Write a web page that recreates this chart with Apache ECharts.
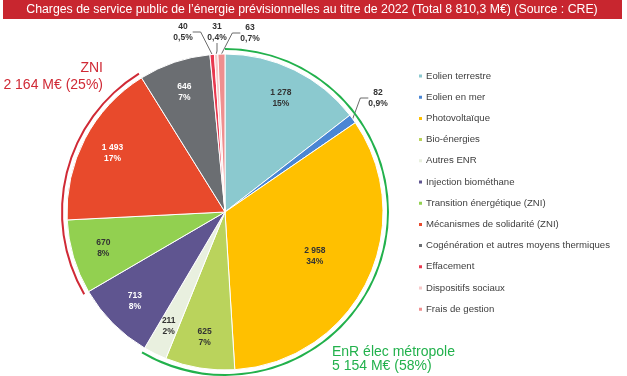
<!DOCTYPE html>
<html>
<head>
<meta charset="utf-8">
<script src="https://cdn.jsdelivr.net/npm/echarts@6/dist/echarts.min.js"></script>
<style>
html,body{margin:0;padding:0;background:#fff;}
#chart{width:627px;height:376px;}
</style>
</head>
<body>
<div id="chart"></div>
<script>
// ---- data ----
const categories = ['Eolien terrestre','Eolien en mer','Photovoltaïque','Bio-énergies','Autres ENR','Injection biométhane','Transition énergétique (ZNI)','Mécanismes de solidarité (ZNI)','Cogénération et autres moyens thermiques','Effacement','Dispositifs sociaux','Frais de gestion'];
const values = [1278, 82, 2958, 625, 211, 713, 670, 1493, 646, 40, 31, 63];
const groupOf = ['EnR','EnR','EnR','EnR','EnR','Bio','ZNI','ZNI','Autres','Autres','Autres','Autres'];
const groupOrder = ['EnR','Bio','ZNI','Autres'];
const titleText = "Charges de service public de l\u2019énergie prévisionnelles au titre de 2022 (Total 8 810,3 M\u20ac) (Source : CRE)";
const enrText = ['EnR élec métropole', '5 154 M\u20ac (58%)'];
const zniText = ['ZNI', '2 164 M\u20ac (25%)'];

// ---- styles ----
const colors = ['#8bc9cf','#4a86d4','#ffc000','#bad35c','#e9f0df','#5f5590','#92d050','#e84a2c','#6b6e72','#e8394f','#f7c9c9','#ef8f8f'];
const labelColors = ['#333','#333','#333','#333','#333','#fff','#333','#fff','#fff','#333','#333','#333'];
const groupColors = {EnR:'#22b14c', Bio:'rgba(0,0,0,0)', ZNI:'#d02a36', Autres:'rgba(0,0,0,0)'};
const smallLabelPos = {1:[378,98], 9:[183,32], 10:[217,32], 11:[250,33]};

const total = values.reduce((a,b)=>a+b,0);
function fmt(v){ return String(v).replace(/\B(?=(\d{3})+(?!\d))/g,' '); }
function pct(v){ const p = v/total*100; return p < 1 ? p.toFixed(1).replace('.',',')+'%' : Math.round(p)+'%'; }
const lbl = p => fmt(p.value) + '\n' + pct(p.value);

const groupValues = groupOrder.map(g => values.reduce((s,v,i)=> s + (groupOf[i]===g ? v : 0), 0));

const center = [225, 212];
const labelFont = {fontFamily:'Liberation Sans', fontWeight:'bold', fontSize:8.5, lineHeight:11};

const mainData = categories.map((n,i)=>({
  name:n, value:values[i], itemStyle:{color:colors[i]},
  label:{show: values[i] < 100}
}));
const insideData = (pick) => categories.map((n,i)=>({
  name:n, value:values[i],
  label:{show: pick(i), color:labelColors[i]}
}));

const chart = echarts.init(document.getElementById('chart'), null, {renderer:'canvas'});
chart.setOption({
  animation:false,
  color: colors,
  graphic:[
    {type:'rect', left:3, top:0, shape:{width:619, height:19}, style:{fill:'#c8262f'}},
    {type:'text', x:312, y:10, style:{text:titleText, fill:'#fff', font:'12.3px "Liberation Sans"', align:'center', verticalAlign:'middle'}},
    {type:'text', x:103, y:68, style:{text:zniText[0], fill:'#d02a36', font:'14px "Liberation Sans"', align:'right', verticalAlign:'middle'}},
    {type:'text', x:103, y:85, style:{text:zniText[1], fill:'#d02a36', font:'14px "Liberation Sans"', align:'right', verticalAlign:'middle'}},
    {type:'text', x:332, y:352, style:{text:enrText[0], fill:'#22b14c', font:'14px "Liberation Sans"', align:'left', verticalAlign:'middle'}},
    {type:'text', x:332, y:366, style:{text:enrText[1], fill:'#22b14c', font:'14px "Liberation Sans"', align:'left', verticalAlign:'middle'}}
  ],
  legend:{
    orient:'vertical', left:412, top:65,
    data: categories,
    icon:'rect', itemWidth:5, itemHeight:5, itemGap:9.2,
    textStyle:{fontFamily:'Liberation Sans', fontSize:9.6, color:'#404040', lineHeight:12, padding:[0,0,0,-2]}
  },
  series:[
    {
      type:'pie', name:'main', center:center, radius:[0,158], startAngle:90, clockwise:true,
      avoidLabelOverlap:false, silent:true,
      itemStyle:{borderColor:'#fff', borderWidth:1},
      label:Object.assign({position:'outside', color:'#333', formatter:lbl}, labelFont),
      labelLine:{show:true, length:6, length2:8, lineStyle:{color:'#444', width:0.8}},
      labelLayout: function(p){
        const pos = smallLabelPos[p.dataIndex];
        if (!pos) return {};
        return {x:pos[0], y:pos[1], align:'center', verticalAlign:'middle'};
      },
      data: mainData
    },
    {
      type:'pie', name:'ring', center:center, radius:[162,164], startAngle:90, clockwise:true, silent:true,
      label:{show:false}, labelLine:{show:false},
      data: groupOrder.map((g,i)=>({name:'grp-'+g, value:groupValues[i], itemStyle:{color:groupColors[g]}}))
    },
    {
      type:'pie', name:'lab1', center:center, radius:[90,158], startAngle:90, clockwise:true, silent:true,
      itemStyle:{color:'rgba(0,0,0,0)'},
      label:Object.assign({position:'inside', formatter:lbl}, labelFont),
      data: insideData(i => values[i] >= 100 && i !== 2)
    },
    {
      type:'pie', name:'lab2', center:center, radius:[36,158], startAngle:90, clockwise:true, silent:true,
      itemStyle:{color:'rgba(0,0,0,0)'},
      label:Object.assign({position:'inside', formatter:lbl}, labelFont),
      data: insideData(i => i === 2)
    }
  ]
});
</script>
</body>
</html>
